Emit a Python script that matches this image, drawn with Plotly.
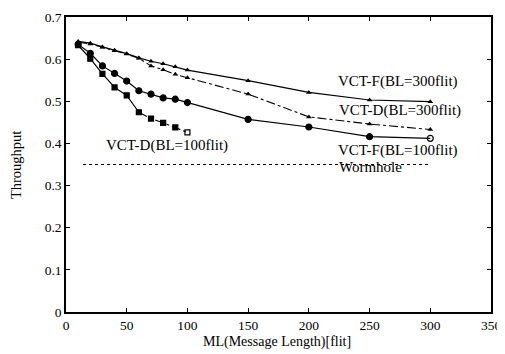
import plotly.graph_objects as go

ml = [10, 20, 30, 40, 50, 60, 70, 80, 90, 100, 150, 200, 250, 300]
vctf_300 = [0.642, 0.638, 0.629, 0.621, 0.613, 0.603, 0.595, 0.589, 0.582, 0.574, 0.549, 0.521, 0.503, 0.499]
vctd_300 = [0.640, 0.636, 0.628, 0.620, 0.612, 0.602, 0.584, 0.575, 0.564, 0.556, 0.517, 0.463, 0.446, 0.433]
vctf_100 = [0.635, 0.614, 0.584, 0.566, 0.548, 0.525, 0.517, 0.508, 0.505, 0.497, 0.457, 0.439, 0.416, 0.412]
ml_short = [10, 20, 30, 40, 50, 60, 70, 80, 90, 100]
vctd_100 = [0.633, 0.601, 0.565, 0.533, 0.514, 0.474, 0.459, 0.449, 0.438, 0.426]
worm_x = [14, 300]
worm_y = [0.35, 0.35]

labels = ["VCT-F(BL=300flit)", "VCT-D(BL=300flit)", "VCT-F(BL=100flit)", "Wormhole", "VCT-D(BL=100flit)"]
label_x = [273, 275, 273, 251, 83]
label_y = [0.546, 0.479, 0.384, 0.344, 0.394]

x_title = "ML(Message Length)[flit]"
y_title = "Throughput"

FONT = "Liberation Serif"
fig = go.Figure()

# Wormhole
fig.add_trace(go.Scatter(x=worm_x, y=worm_y, mode="lines",
                         line=dict(color="black", width=1.2, dash="dot")))
# VCT-F 300
fig.add_trace(go.Scatter(x=ml, y=vctf_300, mode="lines+markers",
                         line=dict(color="black", width=1.2),
                         marker=dict(symbol="triangle-up", size=5, color="black")))
# VCT-D 300
fig.add_trace(go.Scatter(x=ml, y=vctd_300, mode="lines+markers",
                         line=dict(color="black", width=1.1, dash="dashdot"),
                         marker=dict(symbol="triangle-up", size=5, color="black")))
# VCT-F 100
sym_f = ["circle"] * (len(ml) - 1) + ["circle-open"]
fig.add_trace(go.Scatter(x=ml, y=vctf_100, mode="lines+markers",
                         line=dict(color="black", width=1.2),
                         marker=dict(symbol=sym_f, size=6, color="black",
                                     line=dict(color="black", width=1.2))))
# VCT-D 100: solid up to 60, dash-dot after
fig.add_trace(go.Scatter(x=ml_short[:6], y=vctd_100[:6], mode="lines",
                         line=dict(color="black", width=1.2)))
fig.add_trace(go.Scatter(x=ml_short[5:], y=vctd_100[5:], mode="lines",
                         line=dict(color="black", width=1.1, dash="dashdot")))
sym_d = ["square"] * (len(ml_short) - 1) + ["square-open"]
fig.add_trace(go.Scatter(x=ml_short, y=vctd_100, mode="markers",
                         marker=dict(symbol=sym_d, size=5, color="black",
                                     line=dict(color="black", width=1.2))))

for t, x, y in zip(labels, label_x, label_y):
    fig.add_annotation(x=x, y=y, text=t, showarrow=False,
                       font=dict(family=FONT, size=15, color="black"))

# axis titles
fig.add_annotation(xref="paper", yref="paper", x=0.4976, y=-0.103, text=x_title,
                   showarrow=False, xanchor="center", yanchor="middle",
                   font=dict(family=FONT, size=14, color="black"))
fig.add_annotation(xref="paper", yref="paper", x=-0.1176, y=0.498, text=y_title,
                   showarrow=False, xanchor="center", yanchor="middle", textangle=-90,
                   font=dict(family=FONT, size=14.5, color="black"))

axis_common = dict(showgrid=False, zeroline=False, showline=True, linecolor="black",
                   linewidth=1.5, mirror="ticks", ticks="inside", ticklen=4,
                   tickcolor="black", automargin=False,
                   tickfont=dict(family=FONT, size=13.5, color="black"))

fig.update_xaxes(range=[0, 350], dtick=50, tick0=0, **axis_common)
fig.update_yaxes(range=[0, 0.7], dtick=0.1, tick0=0, **axis_common)

# page body has an 8px margin, so the figure is sized to fit the 505x354 window
fig.update_layout(width=497, height=346, showlegend=False,
                  paper_bgcolor="white", plot_bgcolor="white",
                  margin=dict(l=58, r=14, t=9, b=42))

fig.write_html("out.html")
